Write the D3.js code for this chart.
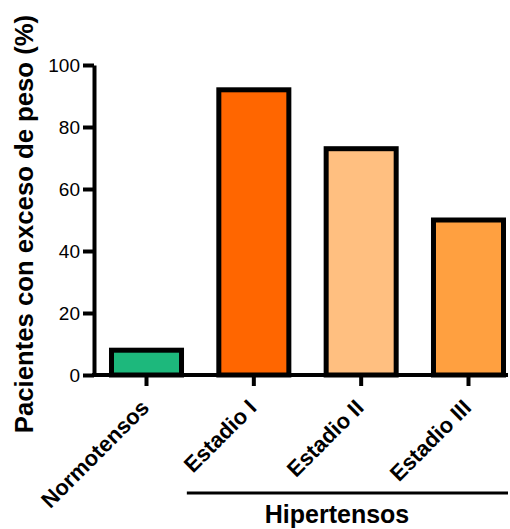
<!DOCTYPE html>
<html><head><meta charset="utf-8">
<script src="https://cdn.jsdelivr.net/npm/d3@7"></script>
<style>body{margin:0;background:#fff}svg{display:block}</style>
</head><body>
<svg id="c" width="510" height="529"></svg>
<script>
const categories = ["Normotensos", "Estadio I", "Estadio II", "Estadio III"];
const values = [8, 92, 73, 50];
const colors = ["#1db87c", "#ff6600", "#ffbf80", "#ffa040"];
const yTicks = [0, 20, 40, 60, 80, 100];
const yLabel = "Pacientes con exceso de peso (%)";
const groupLabel = "Hipertensos";
const groupMembers = ["Estadio I", "Estadio II", "Estadio III"];

const svg = d3.select("#c");
const font = "'Liberation Sans', Arial, sans-serif";
const x0 = 94, yBase = 375, yTop = 65;

const y = d3.scaleLinear().domain([0, 100]).range([yBase, yTop]);
const x = d3.scaleBand().domain(categories).range([x0, 521]).paddingInner(0.3476).paddingOuter(0.163);

// bars
svg.selectAll("rect.bar").data(categories).join("rect")
  .attr("class", "bar")
  .attr("x", d => x(d))
  .attr("width", x.bandwidth())
  .attr("y", (d, i) => y(values[i]))
  .attr("height", (d, i) => yBase - y(values[i]))
  .attr("fill", (d, i) => colors[i])
  .attr("stroke", "#000").attr("stroke-width", 5);

// y axis
const ya = svg.append("g").attr("transform", `translate(${x0},0)`)
  .call(d3.axisLeft(y).tickValues(yTicks).tickSize(11).tickPadding(3).tickSizeOuter(0));
ya.select(".domain").attr("stroke-width", 4);
ya.selectAll(".tick line").attr("stroke-width", 4);
ya.selectAll(".tick text").attr("font-family", font).attr("font-size", 19).attr("fill", "#000");

// x axis
const xa = svg.append("g").attr("transform", `translate(0,${yBase})`)
  .call(d3.axisBottom(x).tickSize(11).tickSizeOuter(0));
xa.select(".domain").remove();
xa.selectAll(".tick line").attr("stroke-width", 4);
xa.selectAll(".tick text")
  .attr("font-family", font).attr("font-size", 22).attr("font-weight", "bold").attr("fill", "#000")
  .attr("text-anchor", "end")
  .attr("dy", 0).attr("y", 0)
  .attr("transform", "translate(4,34) rotate(-45)");
svg.append("line").attr("x1", x0 - 2).attr("x2", 508)
  .attr("y1", yBase).attr("y2", yBase).attr("stroke", "#000").attr("stroke-width", 4);

// group bracket
const gx1 = x(groupMembers[0]) + x.bandwidth() / 2 - 67;
const gx2 = 508;
svg.append("line").attr("x1", gx1).attr("x2", gx2).attr("y1", 493).attr("y2", 493)
  .attr("stroke", "#000").attr("stroke-width", 3);
svg.append("text").attr("x", 337).attr("y", 523)
  .attr("text-anchor", "middle").attr("font-family", font).attr("font-size", 25).attr("font-weight", "bold")
  .text(groupLabel);

// y label
svg.append("text").attr("transform", "translate(33,224) rotate(-90)")
  .attr("text-anchor", "middle").attr("font-family", font).attr("font-size", 25.7).attr("font-weight", "bold")
  .text(yLabel);
</script>
</body></html>
